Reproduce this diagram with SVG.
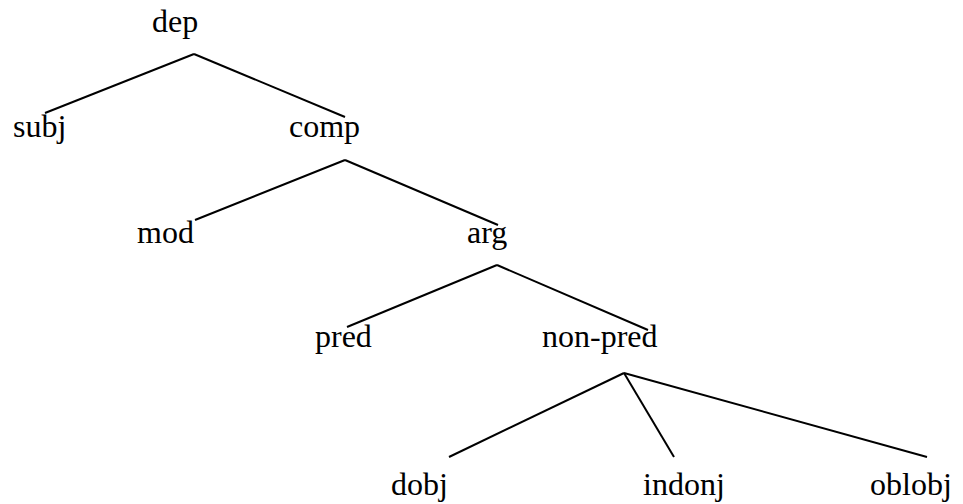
<svg xmlns="http://www.w3.org/2000/svg" width="963" height="504" viewBox="0 0 963 504">
<style>
.lbl{font-family:"Liberation Serif","Times New Roman",serif;font-size:32px;fill:#000}
.edge{stroke:#000;stroke-width:2;fill:none;stroke-linecap:butt}
</style>
<rect width="963" height="504" fill="#fff"/>
<g id="connectors">
<line class="edge" x1="194" y1="54" x2="45" y2="113"/>
<line class="edge" x1="194" y1="54" x2="345" y2="117"/>
<line class="edge" x1="345" y1="160" x2="195" y2="220"/>
<line class="edge" x1="345" y1="160" x2="498" y2="225"/>
<line class="edge" x1="497" y1="265" x2="347" y2="327"/>
<line class="edge" x1="497" y1="265" x2="648" y2="330"/>
<line class="edge" x1="624" y1="373" x2="449" y2="457"/>
<line class="edge" x1="624" y1="373" x2="674" y2="457"/>
<line class="edge" x1="624" y1="373" x2="927" y2="457"/>
</g>
<g id="dep"><text class="lbl" x="152" y="32">dep</text></g>
<g id="subj"><text class="lbl" x="13" y="137">subj</text></g>
<g id="comp"><text class="lbl" x="289" y="137">comp</text></g>
<g id="mod"><text class="lbl" x="137" y="243">mod</text></g>
<g id="arg"><text class="lbl" x="467" y="243">arg</text></g>
<g id="pred"><text class="lbl" x="315" y="347">pred</text></g>
<g id="non-pred"><text class="lbl" x="542" y="347">non-pred</text></g>
<g id="dobj"><text class="lbl" x="391" y="495">dobj</text></g>
<g id="indonj"><text class="lbl" x="643" y="495">indonj</text></g>
<g id="oblobj"><text class="lbl" x="870" y="495">oblobj</text></g>
</svg>
